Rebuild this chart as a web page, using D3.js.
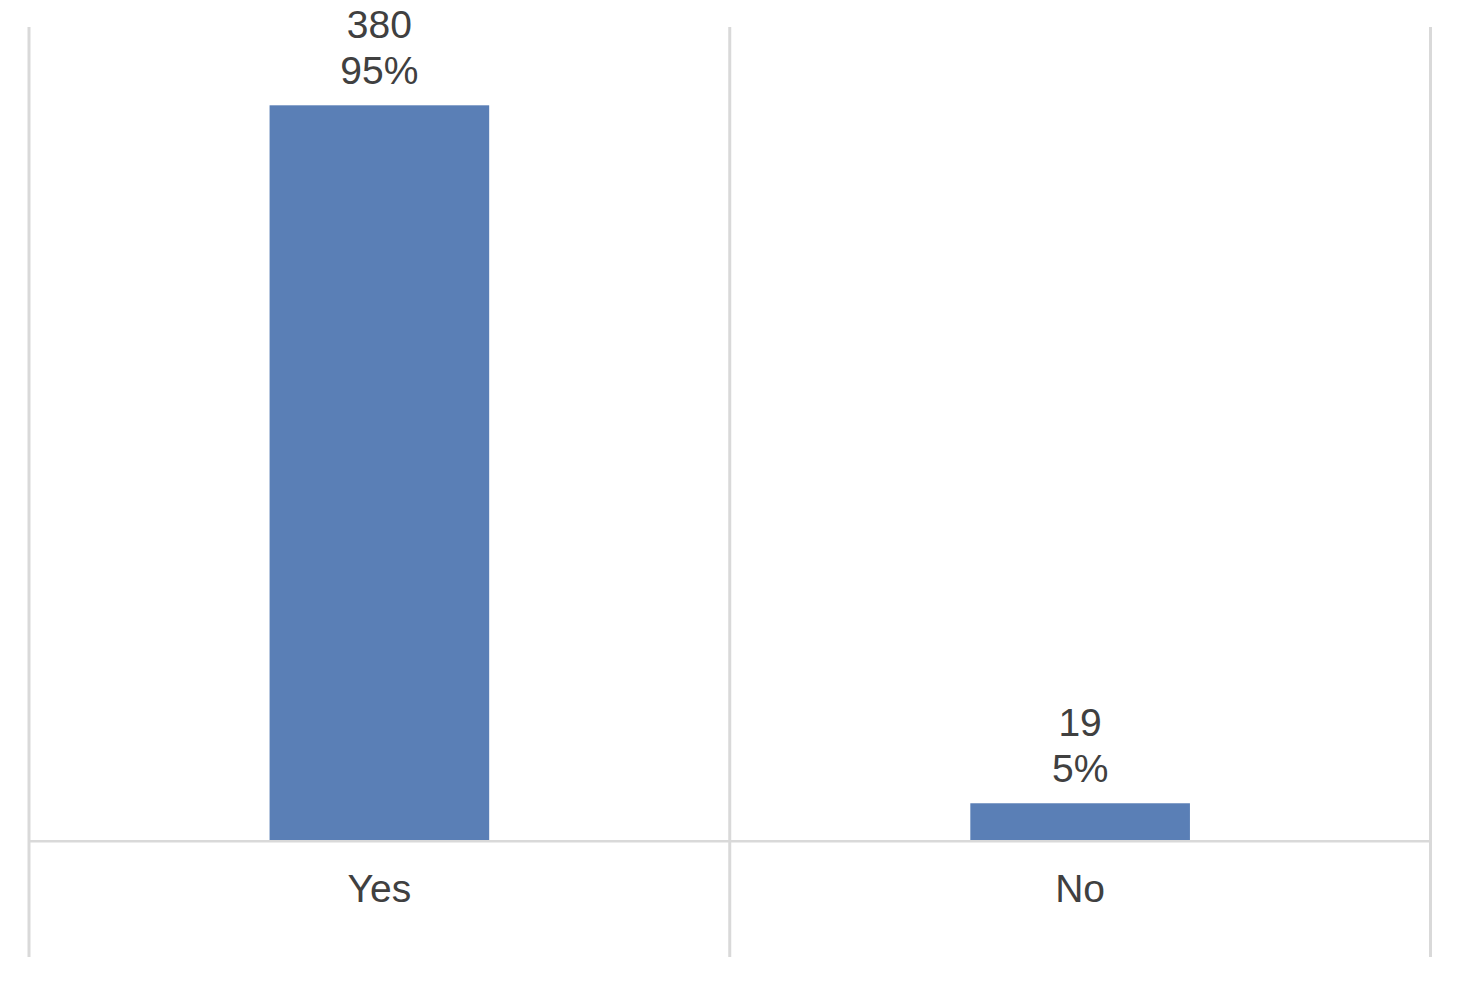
<!DOCTYPE html>
<html>
<head>
<meta charset="utf-8">
<script src="https://cdn.jsdelivr.net/npm/d3@7"></script>
<style>
  html, body { margin: 0; padding: 0; background: #ffffff; }
  svg { display: block; }
</style>
</head>
<body>
<svg id="chart" width="1460" height="984"></svg>
<script>
const categories = ["Yes", "No"];
const counts = [380, 19];
const percentLabels = ["95%", "5%"];

(function () {
const svg = d3.select("#chart");
const plotLeft = 29, plotRight = 1430.5, plotTop = 27, baseline = 840, gridBottom = 957;
const font = "'Liberation Sans', Arial, sans-serif";
const fontSize = 39;

const x = d3.scaleBand().domain(categories).range([plotLeft, plotRight]).padding(0);
const y = d3.scaleLinear().domain([0, 420.5]).range([baseline, plotTop]);
const barFrac = 0.3134;
const barW = x.bandwidth() * barFrac;

// vertical category separators
const seps = [plotLeft, ...categories.map(c => x(c) + x.bandwidth())];
svg.append("g").selectAll("line").data(seps).join("line")
  .attr("x1", d => d).attr("x2", d => d)
  .attr("y1", plotTop).attr("y2", gridBottom)
  .attr("stroke", "#d9d9d9").attr("stroke-width", 3);

// bars
svg.append("g").selectAll("rect").data(categories).join("rect")
  .attr("x", d => x(d) + (x.bandwidth() - barW) / 2)
  .attr("width", barW)
  .attr("y", (d, i) => y(counts[i]))
  .attr("height", (d, i) => baseline - y(counts[i]))
  .attr("fill", "#5a7fb6");

// baseline axis
svg.append("line")
  .attr("x1", plotLeft).attr("x2", plotRight)
  .attr("y1", baseline + 1.3).attr("y2", baseline + 1.3)
  .attr("stroke", "#d9d9d9").attr("stroke-width", 2.5);

// data labels
const lg = svg.append("g").attr("font-family", font).attr("font-size", fontSize)
  .attr("fill", "#404040").attr("text-anchor", "middle");
categories.forEach((c, i) => {
  const cx = x(c) + x.bandwidth() / 2;
  const t = y(counts[i]);
  lg.append("text").attr("x", cx).attr("y", t - 67).text(counts[i]);
  lg.append("text").attr("x", cx).attr("y", t - 21).text(percentLabels[i]);
});

// category labels
svg.append("g").selectAll("text").data(categories).join("text")
  .attr("x", d => x(d) + x.bandwidth() / 2)
  .attr("y", 901.5)
  .attr("text-anchor", "middle")
  .attr("font-family", font).attr("font-size", fontSize)
  .attr("fill", "#404040")
  .text(d => d);
})();
</script>
</body>
</html>
